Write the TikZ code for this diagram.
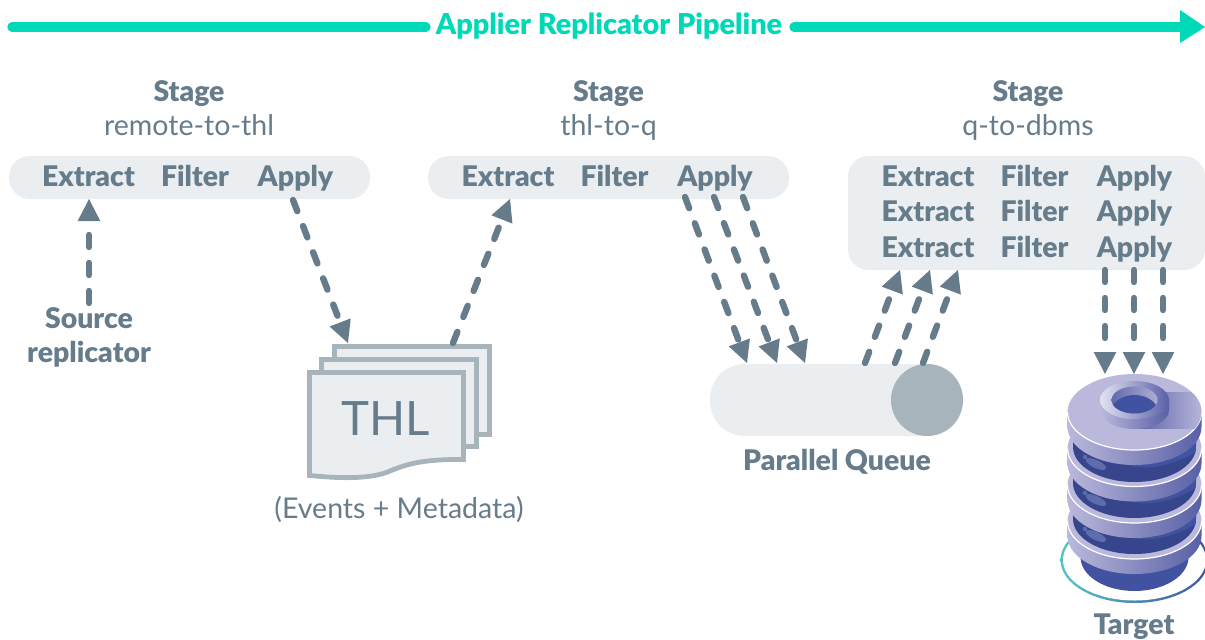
\documentclass[tikz,border=0pt]{standalone}
\usepackage{fontspec}
\setmainfont{Lato}[BoldFont={Lato Black}]
\usetikzlibrary{arrows.meta,shapes.geometric}
\definecolor{slate}{HTML}{667C8B}
\definecolor{pale}{HTML}{EBEEF1}
\definecolor{steel}{HTML}{A7B4BC}
\definecolor{mint}{HTML}{00D9B8}
\definecolor{lav}{HTML}{BAB8DB}
\definecolor{lavl}{HTML}{E2E2F1}
\definecolor{blu}{HTML}{4152A0}
\definecolor{dkblu}{HTML}{37458C}
\definecolor{midblu}{HTML}{5860A6}
\definecolor{teal}{HTML}{55C4C4}
\definecolor{glint}{HTML}{5F6DB0}
\tikzset{
 x=0.75pt,y=-0.75pt,
 hd/.style={font=\fontsize{21.3}{24}\selectfont\bfseries,text=slate,inner sep=0pt,anchor=base},
 sub/.style={font=\fontsize{21.4}{24}\selectfont,text=slate,inner sep=0pt,anchor=base},
 pill/.style={fill=pale,draw=none},
 flow/.style={draw=slate,line width=4.8pt,line cap=round,dash pattern=on 9pt off 12pt,
   -{Triangle[length=16.5pt,width=17pt,line width=0pt,sharp]}},
 sheet/.style={draw=steel,fill=pale,line width=3.6pt},
}
\newcommand{\platelayer}[1]{%
 \shade[left color=lav,right color=midblu] (1067.5,#1) arc[start angle=180,end angle=0,x radius=67,y radius=38] -- ++(0,15) arc[start angle=0,end angle=180,x radius=67,y radius=38] -- cycle;
 \fill[lav] (1134.5,#1) ellipse[x radius=67,y radius=38];
 \draw[white,line width=0.9pt] (1067.5,#1) arc[start angle=180,end angle=0,x radius=67,y radius=38];
}
\newcommand{\corelayer}[1]{%
 \begin{scope}
 \clip (1073,#1-20) -- (1196,#1-20) -- (1196,#1) arc[start angle=0,end angle=180,x radius=61.5,y radius=35] -- cycle;
 \fill[dkblu] (1060,#1-25) rectangle (1205,#1+40);
 \fill[blu] (1095,#1-25) -- (1095,#1-5) .. controls (1110,#1+20) and (1150,#1+32) .. (1196,#1+5) -- (1196,#1-25) -- cycle;
 \fill[glint,rotate around={-25:(1096,#1+17)}] (1096,#1+17) ellipse[x radius=11,y radius=4];
 \fill[glint] (1085,#1+10) circle[radius=2.2];
 \end{scope}
}
\begin{document}
\begin{tikzpicture}
\useasboundingbox (0,0) rectangle (1205,639);
% header
\node[font=\fontsize{21.6}{24}\selectfont\bfseries,text=mint,inner sep=0pt,anchor=base] (title) at (609,34) {Applier Replicator Pipeline};
\coordinate (hl) at (12,27);
\coordinate (hl2) at (426,27);
\coordinate (hr) at (794,27);
\coordinate (hr2) at (1180,27);
\coordinate (htip) at (1205,27);
\draw[mint,line width=7pt,line cap=round] (hl) -- (hl2);
\draw[mint,line width=7pt,line cap=round] (hr) -- (hr2);
\fill[mint] (1180,10) -- (htip) -- (1180,43) -- cycle;
% stage pills
\fill[pill,rounded corners=15.5pt] (9,156) rectangle (370,199);
\fill[pill,rounded corners=15.5pt] (428,156) rectangle (789,199);
\fill[pill,rounded corners=15.5pt] (848,156) rectangle (1205,270);
\node[hd] (s1) at (189,101) {Stage};
\node[sub] (s1b) at (189,135) {remote-to-thl};
\node[hd] (s2) at (608.5,101) {Stage};
\node[sub] (s2b) at (608.5,135) {thl-to-q};
\node[hd] (s3) at (1028,101) {Stage};
\node[sub] (s3b) at (1028,135) {q-to-dbms};
\node[hd] (e1) at (88.5,186) {Extract};
\node[hd] (f1) at (195,186) {Filter};
\node[hd] (a1) at (295.5,186) {Apply};
\node[hd] (e2) at (508,186) {Extract};
\node[hd] (f2) at (614.5,186) {Filter};
\node[hd] (a2) at (715,186) {Apply};
\foreach \n/\y in {a/186,b/221.5,c/257}{
 \node[hd] (e3\n) at (928,\y) {Extract};
 \node[hd] (f3\n) at (1034.5,\y) {Filter};
 \node[hd] (a3\n) at (1134.5,\y) {Apply};
}
\node[hd] (srca) at (89,328) {Source};
\node[hd] (srcb) at (89,362) {replicator};
% THL
\draw[sheet] (334.5,346.5) rectangle (489.5,434.5);
\draw[sheet] (321.5,359.5) rectangle (476.5,446.5);
\draw[sheet] (309.5,372.5) -- (463.5,372.5) -- (463.5,459.5) .. controls (420,459) and (405,465) .. (390,471) .. controls (370,480) and (335,478) .. (309.5,475.5) -- cycle;
\node[inner sep=0pt,anchor=base,font=\fontsize{35.5}{40}\selectfont,text=slate] (thl) at (386,435) {THL};
\node[sub] (ev) at (399,518) {(Events + Metadata)};
% queue
\fill[pill,rounded corners=26pt] (710,364) rectangle (963,436);
\fill[steel] (927,400) circle[radius=36];
\node[hd] (pq) at (837,470) {Parallel Queue};
% database
\begin{scope}
\clip (0,0) rectangle (1205,639);
\shade[left color=teal,middle color=teal!70!blu,right color=blu] (1134.5,560) ellipse[x radius=74,y radius=43];
\fill[white] (1134.5,560) ellipse[x radius=71.5,y radius=40.5];
\end{scope}
\fill[blu] (1080.5,540) -- (1188.5,540) -- (1188.5,557) arc[start angle=0,end angle=180,x radius=54,y radius=34] -- cycle;
\platelayer{521}
\corelayer{519}
\platelayer{485}
\corelayer{483}
\platelayer{448.5}
\corelayer{447}
\platelayer{412}
% notch and ring on the top plate
\begin{scope}
\clip (1134.5,412) ellipse[x radius=67,y radius=38];
\shade[left color=midblu,right color=lav] (1134.5,392) rectangle (1204,428);
\end{scope}
\shade[left color=lav,right color=midblu] (1100,400) arc[start angle=180,end angle=0,x radius=34.5,y radius=19] -- ++(0,10) arc[start angle=0,end angle=180,x radius=34.5,y radius=19] -- cycle;
\shade[left color=lavl,right color=midblu] (1134.5,400) ellipse[x radius=34.5,y radius=19];
\begin{scope}
\clip (1134.5,400) ellipse[x radius=23,y radius=13.5];
\shade[left color=midblu,right color=lav] (1105,380) rectangle (1165,420);
\fill[blu] (1134.5,413) ellipse[x radius=24,y radius=18];
\end{scope}
% connectors
\coordinate (srcT) at (89,303); \coordinate (srcH) at (89,199);
\coordinate (a1o) at (293,200); \coordinate (thlIn) at (348,343);
\coordinate (thlOut) at (453,343); \coordinate (e2in) at (510,199);
\draw[flow] (srcT) -- (srcH);
\draw[flow] (a1o) -- (thlIn);
\draw[flow] (thlOut) -- (e2in);
\foreach \sx/\tx in {685/747,714/777,743/805}{
 \draw[flow] (\sx,197) -- (\tx,363);
}
\foreach \sx/\tx in {865/900,895/930,923/958}{
 \draw[flow] (\sx,363) -- (\tx,270);
}
\foreach \sx in {1105,1134,1163}{
 \draw[flow] (\sx,270) -- (\sx,374);
}
\node[hd] (tg) at (1134,634) {Target};
\end{tikzpicture}
\end{document}
